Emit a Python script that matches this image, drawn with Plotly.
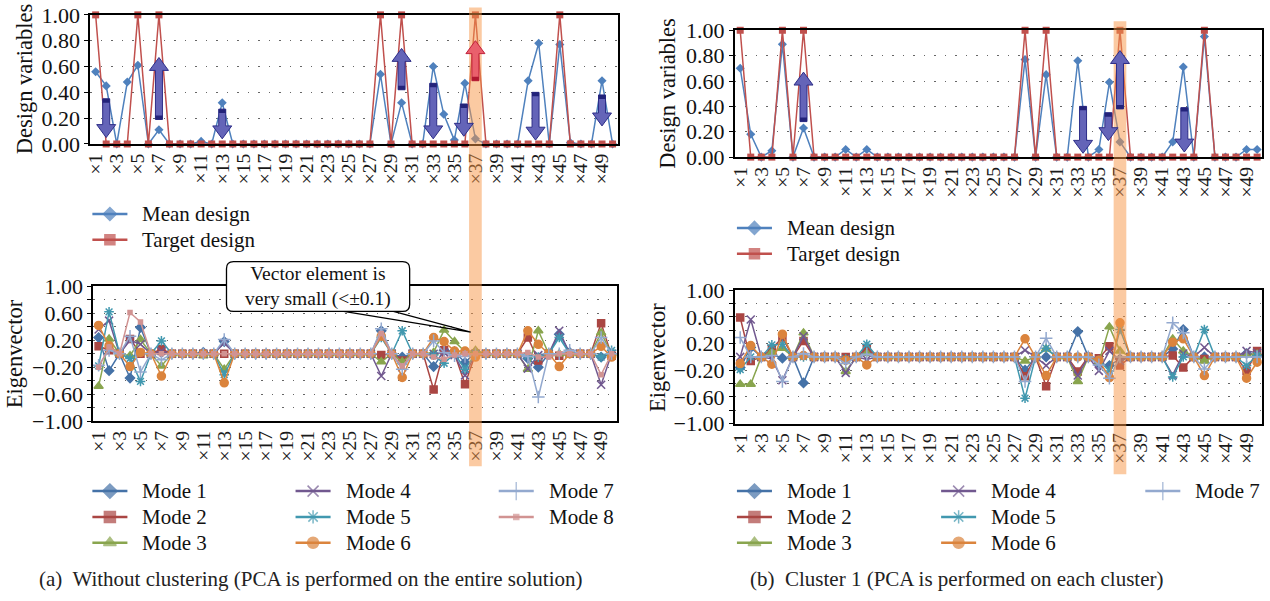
import plotly.graph_objects as go

W, H = 1270, 601
FONT = "Liberation Serif"

# ---------------- data ----------------
var_idx = list(range(1, 51))
x_tickvals = [1, 3, 5, 7, 9, 11, 13, 15, 17, 19, 21, 23, 25, 27, 29, 31, 33, 35, 37, 39, 41, 43, 45, 47, 49]
x_ticktext = ["×1", "×3", "×5", "×7", "×9", "×11", "×13", "×15", "×17", "×19", "×21", "×23", "×25",
              "×27", "×29", "×31", "×33", "×35", "×37", "×39", "×41", "×43", "×45", "×47", "×49"]
top_tickvals = [0, 0.2, 0.4, 0.6, 0.8, 1.0]
top_ticktext = ["0.00", "0.20", "0.40", "0.60", "0.80", "1.00"]
bot_tickvals = [-1.0, -0.6, -0.2, 0.2, 0.6, 1.0]
bot_ticktext = ["−1.00", "−0.60", "−0.20", "0.20", "0.60", "1.00"]
bot_minor = [-0.8, -0.4, 0.0, 0.4, 0.8]

target_a = [1, 0, 0, 0, 1, 0, 1, 0, 0, 0,
            0, 0, 0, 0, 0, 0, 0, 0, 0, 0,
            0, 0, 0, 0, 0, 0, 0, 1, 0, 1,
            0, 0, 0, 0, 0, 0, 1, 0, 0, 0,
            0, 0, 0, 0, 1, 0, 0, 0, 0, 0]
mean_a = [0.56, 0.45, 0, 0.48, 0.61, 0, 0.11, 0, 0, 0,
          0.02, 0, 0.32, 0, 0, 0, 0, 0, 0, 0,
          0, 0, 0, 0, 0, 0, 0, 0.54, 0, 0.32,
          0, 0, 0.60, 0.23, 0.03, 0.47, 0.04, 0, 0, 0,
          0, 0.49, 0.78, 0, 0.77, 0.01, 0, 0, 0.49, 0]
target_b = [1, 0, 0, 0, 1, 0, 1, 0, 0, 0,
            0, 0, 0, 0, 0, 0, 0, 0, 0, 0,
            0, 0, 0, 0, 0, 0, 0, 1, 0, 1,
            0, 0, 0, 0, 0, 0, 1, 0, 0, 0,
            0, 0, 0, 0, 1, 0, 0, 0, 0, 0]
mean_b = [0.70, 0.18, 0, 0.05, 0.89, 0, 0.23, 0, 0, 0,
          0.06, 0, 0.06, 0, 0, 0, 0, 0, 0, 0,
          0, 0, 0, 0, 0, 0, 0, 0.77, 0, 0.65,
          0, 0, 0.76, 0, 0.06, 0.59, 0.12, 0, 0, 0,
          0, 0.12, 0.71, 0, 0.95, 0, 0, 0, 0.06, 0.06]

mode1_a = [0.24, -0.25, 0, -0.36, 0.39, 0, 0.02, 0, 0, 0,
           0.02, 0, 0.18, 0, 0, 0, 0, 0, 0, 0,
           0, 0, 0, 0, 0, 0, 0, 0.34, 0, -0.05,
           0, 0, -0.19, 0.05, 0.03, -0.13, 0.02, 0, 0, 0,
           0, -0.07, -0.20, 0, 0.29, 0.02, 0, 0, -0.05, 0]
mode2_a = [0.11, 0.05, 0, 0.22, 0, 0, 0.07, 0, 0, 0,
           0, 0, 0, 0, 0, 0, 0, 0, 0, 0,
           0, 0, 0, 0, 0, 0, 0, -0.02, 0, -0.10,
           0, 0, -0.53, 0.05, 0, -0.45, 0, 0, 0, 0,
           0, 0.24, -0.10, 0, -0.03, 0, 0, 0, 0.45, -0.03]
mode3_a = [-0.48, 0.22, 0, -0.03, 0.21, 0, -0.18, 0, 0, 0,
           -0.03, 0, -0.23, 0, 0, 0, 0, 0, 0, 0,
           0, 0, 0, 0, 0, 0, 0, -0.12, 0, -0.12,
           0, 0, 0.02, 0.35, 0.18, 0.03, 0.05, 0, 0, 0,
           0, -0.23, 0.34, 0, 0, 0, 0, 0, 0.31, 0]
mode4_a = [0.36, 0.49, 0, 0.20, 0.14, 0, 0.04, 0, 0, 0,
           0, 0, 0.16, 0, 0, 0, 0, 0, 0, 0,
           0, 0, 0, 0, 0, 0, 0, -0.33, 0, -0.20,
           0, 0, 0, 0.02, -0.02, -0.32, 0, 0, 0, 0,
           0, -0.22, -0.02, 0, 0.34, 0, 0, 0, -0.46, 0]
mode5_a = [-0.18, 0.62, 0, -0.07, -0.41, 0, 0.19, 0, 0, 0,
           0, 0, -0.31, 0, 0, 0, 0, 0, 0, 0,
           0, 0, 0, 0, 0, 0, 0, 0.24, 0, 0.34,
           0, 0, -0.02, -0.14, 0, -0.23, 0, 0, 0, 0,
           0, -0.03, -0.05, 0, 0.24, 0, 0, 0, -0.05, 0.05]
mode6_a = [0.42, 0.12, 0, -0.19, 0.02, 0, -0.33, 0, 0, 0,
           0, 0, -0.43, 0, 0, 0, 0, 0, 0, 0,
           0, 0, 0, 0, 0, 0, 0, 0.26, 0, -0.35,
           0, 0, 0.24, 0.18, 0.04, 0.04, -0.05, 0, 0, 0,
           0, 0.34, 0.14, 0, -0.19, 0, 0, 0, 0.11, -0.05]
mode7_a = [-0.17, 0.05, 0, 0.26, -0.27, 0, -0.09, 0, 0, 0,
           0, 0, 0.21, 0, 0, 0, 0, 0, 0, 0,
           0, 0, 0, 0, 0, 0, 0, 0.37, 0, -0.23,
           0, 0, 0.19, 0.02, -0.03, -0.04, 0, 0, 0, 0,
           0, -0.04, -0.64, 0, 0, 0.05, 0, 0, 0.24, 0]
mode8_a = [-0.20, 0.10, 0, 0.61, 0.47, 0, 0, 0, 0, 0,
           0, 0, 0, 0, 0, 0, 0, 0, 0, 0,
           0, 0, 0, 0, 0, 0, 0, 0.30, 0, -0.18,
           0, 0, -0.05, -0.08, -0.02, 0, 0, 0, 0, 0,
           0, 0.02, -0.05, -0.05, 0, 0, 0, 0, -0.31, 0]

mode1_b = [-0.16, 0.14, 0, 0.04, -0.02, 0, -0.39, 0, 0, 0,
           -0.05, 0, 0.09, 0, 0, 0, 0, 0, 0, 0,
           0, 0, 0, 0, 0, 0, 0, -0.20, 0, 0,
           0, 0, 0.38, 0, -0.10, -0.13, -0.03, 0, 0, 0,
           0, 0.12, 0.41, 0, 0, 0, 0, 0, 0.05, 0.03]
mode2_b = [0.59, -0.06, 0, 0.12, 0.29, 0, 0.24, 0, 0, 0,
           0, 0, 0.13, 0, 0, 0, 0, 0, 0, 0,
           0, 0, 0, 0, 0, 0, 0, -0.29, 0, -0.44,
           0, 0, -0.22, 0, -0.02, 0.16, -0.13, 0, 0, 0,
           0, 0.02, -0.16, 0, -0.03, 0, 0, 0, -0.21, 0.09]
mode3_b = [-0.41, -0.41, 0, 0.07, 0.13, 0, 0.36, 0, 0, 0,
           -0.22, 0, 0.05, 0, 0, 0, 0, 0, 0, 0,
           0, 0, 0, 0, 0, 0, 0, -0.06, 0, 0.12,
           0, 0, -0.37, 0, -0.08, 0.45, 0.09, 0, 0, 0,
           0, 0.27, 0.09, 0, -0.06, 0, 0, 0, 0.04, 0.04]
mode4_b = [0.0, 0.56, 0, -0.03, -0.35, 0, 0.31, 0, 0, 0,
           -0.24, 0, -0.04, 0, 0, 0, 0, 0, 0, 0,
           0, 0, 0, 0, 0, 0, 0, 0.10, 0, -0.13,
           0, 0, -0.28, 0, -0.21, 0.09, -0.06, 0, 0, 0,
           0, -0.27, 0.05, 0, 0.14, 0, 0, 0, 0.09, 0.06]
mode5_b = [-0.19, 0.0, 0, 0.18, 0.19, 0, 0.0, 0, 0, 0,
           -0.03, 0, 0.19, 0, 0, 0, 0, 0, 0, 0,
           0, 0, 0, 0, 0, 0, 0, -0.62, 0, 0.13,
           0, 0, 0.0, 0, -0.05, -0.21, 0.41, 0, 0, 0,
           0, -0.30, 0.0, 0, 0.41, 0, 0, 0, -0.13, 0.02]
mode6_b = [-0.10, 0.17, 0, -0.11, 0.34, 0, 0.02, 0, 0, 0,
           -0.05, 0, -0.12, 0, 0, 0, 0, 0, 0, 0,
           0, 0, 0, 0, 0, 0, 0, 0.27, 0, -0.28,
           0, 0, 0.0, 0, -0.05, -0.31, 0.51, 0, 0, 0,
           0, 0.22, 0.27, 0, -0.28, 0, 0, 0, -0.32, -0.08]
mode7_b = [0.29, 0.0, 0, 0.02, -0.37, 0, 0.05, 0, 0, 0,
           -0.10, 0, 0.04, 0, 0, 0, 0, 0, 0, 0,
           0, 0, 0, 0, 0, 0, 0, -0.37, 0, 0.28,
           0, 0, 0.0, 0, -0.12, -0.32, 0.0, 0, 0, 0,
           0, 0.51, 0.36, 0, -0.18, 0, 0, 0, 0.0, 0.0]

# arrows: variable position, value at tail, value at tip
arrows_a_x = [2, 7, 13, 30, 33, 35.9, 42.7, 49]
arrows_a_from = [0.35, 0.19, 0.27, 0.42, 0.47, 0.31, 0.40, 0.38]
arrows_a_to = [0.05, 0.67, 0.04, 0.74, 0.04, 0.06, 0.03, 0.14]
red_arrow_a_x = [37]
red_arrow_a_from = [0.49]
red_arrow_a_to = [0.80]
arrows_b_x = [7, 33.5, 35.9, 37, 43.1]
arrows_b_from = [0.28, 0.40, 0.35, 0.38, 0.39]
arrows_b_to = [0.67, 0.03, 0.13, 0.84, 0.04]

highlight_var = 37

mode_names = ["Mode 1", "Mode 2", "Mode 3", "Mode 4", "Mode 5", "Mode 6", "Mode 7", "Mode 8"]
modes_a = [mode1_a, mode2_a, mode3_a, mode4_a, mode5_a, mode6_a, mode7_a, mode8_a]
modes_b = [mode1_b, mode2_b, mode3_b, mode4_b, mode5_b, mode6_b, mode7_b]

# ---------------- styles ----------------
mode_colors = ["#4572A7", "#AA4643", "#89A54E", "#71588F", "#4198AF", "#DB843D", "#93A9CF", "#D19392"]
mode_symbols = ["diamond", "square", "triangle-up", "x-thin-open", "asterisk-open", "circle",
                "cross-thin-open", "square"]
mode_sizes = [7, 7, 8, 8, 8, 8, 9, 4]
leg_sizes = [11, 11, 11, 11, 11, 11, 13, 5]
MEAN_C = "#4F81BD"
TARGET_C = "#C0504D"
TXT = "#111111"

# page placement of the figure inside the captured page (measured offset/scale)
SX, OX = 0.9952, 7.7
SY, OY = 0.965, 10.6


def px(x):
    return ((x - OX) / SX) / W


def py(y):
    return 1 - ((y - OY) / SY) / H


# target pixel geometry of plot areas
geo = {
    "a_top": (93, 620, 13.5, 143.5),
    "a_bot": (96, 619, 286.7, 422.7),
    "b_top": (737, 1264, 29, 156.7),
    "b_bot": (737, 1264, 290.7, 425),
}

fig = go.Figure()

for xa, ya, mean, targ in [("x", "y", mean_a, target_a), ("x3", "y3", mean_b, target_b)]:
    fig.add_trace(go.Scatter(x=var_idx, y=mean, mode="lines+markers", name="Mean design",
                             line=dict(color=MEAN_C, width=1.5),
                             marker=dict(symbol="diamond", size=7, color=MEAN_C),
                             xaxis=xa, yaxis=ya, cliponaxis=False, showlegend=False))
    fig.add_trace(go.Scatter(x=var_idx, y=targ, mode="lines+markers", name="Target design",
                             line=dict(color=TARGET_C, width=1.5),
                             marker=dict(symbol="square", size=7, color=TARGET_C),
                             xaxis=xa, yaxis=ya, cliponaxis=False, showlegend=False))


def mode_trace(vals, i, xa, ya):
    c = mode_colors[i]
    return go.Scatter(x=var_idx, y=vals, mode="lines+markers", name=mode_names[i],
                      line=dict(color=c, width=1.5),
                      marker=dict(symbol=mode_symbols[i], size=mode_sizes[i], color=c,
                                  line=dict(color=c, width=1.5)),
                      xaxis=xa, yaxis=ya, cliponaxis=False, showlegend=False)


for i, vals in enumerate(modes_a):
    fig.add_trace(mode_trace(vals, i, "x2", "y2"))
for i, vals in enumerate(modes_b):
    fig.add_trace(mode_trace(vals, i, "x4", "y4"))

# ---------------- legend keys (manual, on a pixel overlay axis) ----------------
legend_items = []  # (text, color, symbol, size, text_x, row_y)
legend_items.append(("Mean design", MEAN_C, "diamond", 10, 143, 214))
legend_items.append(("Target design", TARGET_C, "square", 10, 143, 240))
legend_items.append(("Mean design", MEAN_C, "diamond", 10, 787, 228))
legend_items.append(("Target design", TARGET_C, "square", 10, 787, 254))
col_a = [143, 346, 549]
col_b = [787, 991, 1195]
rows = [493, 519, 545]
for i in range(8):
    legend_items.append((mode_names[i], mode_colors[i], mode_symbols[i], leg_sizes[i],
                         col_a[i // 3], rows[i % 3]))
for i in range(7):
    legend_items.append((mode_names[i], mode_colors[i], mode_symbols[i], leg_sizes[i],
                         col_b[i // 3], rows[i % 3]))

ann = []
for (txt, c, sym, sz, tx, ry) in legend_items:
    x0, x1 = tx - 48, tx - 13
    fig.add_trace(go.Scatter(x=[x0, (x0 + x1) / 2, x1], y=[ry, ry, ry], mode="lines+markers",
                             line=dict(color=c, width=2.5),
                             marker=dict(symbol=sym, size=[0, sz, 0], color=c, line=dict(color=c, width=1.5)),
                             xaxis="x5", yaxis="y5", showlegend=False, hoverinfo="skip"))
    ann.append(dict(x=px(tx), y=py(ry), xref="paper", yref="paper", showarrow=False, text=txt,
                    font=dict(family=FONT, size=21, color=TXT), xanchor="left", yanchor="middle"))

# ---------------- axes ----------------
grid_dash = "1.5px,9px"


def xaxis_cfg(key, anchor):
    x0, x1, _, _ = geo[key]
    return dict(domain=[px(x0), px(x1)], range=[0.5, 50.5], anchor=anchor,
                tickmode="array", tickvals=x_tickvals, ticktext=x_ticktext, tickangle=-90,
                tickfont=dict(family=FONT, size=19.5, color="#1a1a1a"),
                showline=True, linewidth=2, linecolor="black", mirror=True,
                showgrid=False, zeroline=False, ticks="")


def yaxis_cfg(key, anchor, top):
    _, _, y0, y1 = geo[key]
    cfg = dict(domain=[py(y1), py(y0)], anchor=anchor,
               showline=True, linewidth=2, linecolor="black", mirror=True,
               tickfont=dict(family=FONT, size=22, color=TXT),
               ticks="outside", ticklen=4, tickwidth=1, tickcolor="black",
               showgrid=True, gridcolor="#666", gridwidth=1.3, griddash=grid_dash,
               zeroline=False)
    if top:
        cfg.update(range=[0, 1], tickmode="array", tickvals=top_tickvals, ticktext=top_ticktext)
    else:
        cfg.update(range=[-1, 1], tickmode="array", tickvals=bot_tickvals, ticktext=bot_ticktext,
                   minor=dict(tickmode="array", tickvals=bot_minor, ticks="outside", ticklen=4,
                              tickcolor="black", showgrid=True, gridcolor="#666",
                              gridwidth=1.3, griddash=grid_dash))
    return cfg


layout = dict(
    width=W, height=H, margin=dict(l=0, r=0, t=0, b=0),
    paper_bgcolor="white", plot_bgcolor="rgba(0,0,0,0)",
    font=dict(family=FONT, size=20, color=TXT),
    xaxis=xaxis_cfg("a_top", "y"), yaxis=yaxis_cfg("a_top", "x", True),
    xaxis2=xaxis_cfg("a_bot", "y2"), yaxis2=yaxis_cfg("a_bot", "x2", False),
    xaxis3=xaxis_cfg("b_top", "y3"), yaxis3=yaxis_cfg("b_top", "x3", True),
    xaxis4=xaxis_cfg("b_bot", "y4"), yaxis4=yaxis_cfg("b_bot", "x4", False),
    xaxis5=dict(domain=[0, 1], range=[OX, OX + SX * W], visible=False, anchor="y5", fixedrange=True),
    yaxis5=dict(domain=[0, 1], range=[OY + SY * H, OY], visible=False, anchor="x5", fixedrange=True),
    showlegend=False,
)
fig.update_layout(**layout)

# ---------------- shapes ----------------
shapes = []
shapes.append(dict(type="rect", xref="x", yref="paper", x0=highlight_var - 0.6, x1=highlight_var + 0.6,
                   y0=py(468), y1=py(6), fillcolor="rgba(247,150,70,0.5)", line=dict(width=0), layer="above"))
shapes.append(dict(type="rect", xref="x3", yref="paper", x0=highlight_var - 0.6, x1=highlight_var + 0.6,
                   y0=py(476), y1=py(20), fillcolor="rgba(247,150,70,0.5)", line=dict(width=0), layer="above"))


def block_arrow(x, yf, yt, key, xref, yref, fill, edge, cap):
    x0, x1, y0p, y1p = geo[key]
    ppx = (x1 - x0) / 50.0
    ppy = (y1p - y0p) / 1.0
    sw = 3.5 / ppx
    hw = 9.5 / ppx
    hl = 13 / ppy
    d = 1 if yf > yt else -1
    hb = yt + d * hl
    path = (f"M {x - sw},{yf} L {x + sw},{yf} L {x + sw},{hb} L {x + hw},{hb} "
            f"L {x},{yt} L {x - hw},{hb} L {x - sw},{hb} Z")
    out = [dict(type="path", xref=xref, yref=yref, path=path, fillcolor=fill,
                line=dict(color=edge, width=1), layer="above")]
    capl = 4 / ppy
    out.append(dict(type="rect", xref=xref, yref=yref, x0=x - sw, x1=x + sw, y0=yf, y1=yf - d * capl,
                    fillcolor=cap, line=dict(width=0), layer="above"))
    return out


for x, f, t in zip(arrows_a_x, arrows_a_from, arrows_a_to):
    shapes += block_arrow(x, f, t, "a_top", "x", "y", "#6464b8", "#2d2d88", "#23237a")
for x, f, t in zip(red_arrow_a_x, red_arrow_a_from, red_arrow_a_to):
    shapes += block_arrow(x, f, t, "a_top", "x", "y", "#e9606c", "#c0203a", "#b01830")
for x, f, t in zip(arrows_b_x, arrows_b_from, arrows_b_to):
    shapes += block_arrow(x, f, t, "b_top", "x3", "y3", "#6464b8", "#2d2d88", "#23237a")

# callout box (rounded) and pointer
bx0, bx1, by0, by1, r = 229, 412, 262, 312, 7


def P(x, y):
    return f"{px(x)},{py(y)}"


box_path = (f"M {P(bx0 + r, by0)} L {P(bx1 - r, by0)} Q {P(bx1, by0)} {P(bx1, by0 + r)} "
            f"L {P(bx1, by1 - r)} Q {P(bx1, by1)} {P(bx1 - r, by1)} "
            f"L {P(bx0 + r, by1)} Q {P(bx0, by1)} {P(bx0, by1 - r)} "
            f"L {P(bx0, by0 + r)} Q {P(bx0, by0)} {P(bx0 + r, by0)} Z")
shapes.append(dict(type="path", xref="paper", yref="paper",
                   path=f"M {P(340, 311)} L {P(473, 333)} L {P(392, 311)}",
                   line=dict(color="black", width=1.2), layer="above"))
shapes.append(dict(type="path", xref="paper", yref="paper", path=box_path, fillcolor="white",
                   line=dict(color="black", width=1.3), layer="above"))
fig.update_layout(shapes=shapes)

# ---------------- annotations ----------------
ann.append(dict(x=px(320.5), y=py(287), xref="paper", yref="paper", showarrow=False,
                text="Vector element is<br>very small (&lt;±0.1)", font=dict(family=FONT, size=19.5, color=TXT),
                xanchor="center", yanchor="middle"))
for (tx, ty, txt) in [(28, 78, "Design variables"), (17, 355, "Eigenvector"),
                      (670, 92, "Design variables"), (659, 358, "Eigenvector")]:
    ann.append(dict(x=px(tx), y=py(ty), xref="paper", yref="paper", showarrow=False, text=txt,
                    textangle=-90, font=dict(family=FONT, size=22.5, color=TXT),
                    xanchor="center", yanchor="middle"))
ann.append(dict(x=px(313), y=py(582), xref="paper", yref="paper", showarrow=False,
                text="(a)  Without clustering (PCA is performed on the entire solution)",
                font=dict(family=FONT, size=21, color="#222"), xanchor="center", yanchor="middle"))
ann.append(dict(x=px(958), y=py(582), xref="paper", yref="paper", showarrow=False,
                text="(b)  Cluster 1 (PCA is performed on each cluster)",
                font=dict(family=FONT, size=21, color="#222"), xanchor="center", yanchor="middle"))
fig.update_layout(annotations=ann)

fig.write_html("out.html")
